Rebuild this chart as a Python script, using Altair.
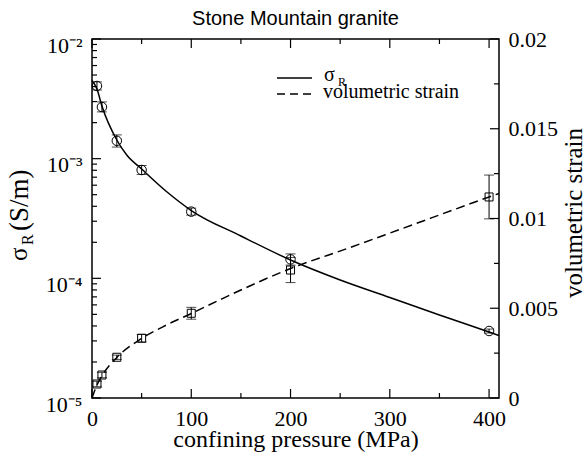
import json
import altair as alt
import pandas as pd

# ---- measured points (confining pressure in MPa) ----
pressure_pts = [5, 10, 25, 50, 100, 200, 400]
sigma_pts = [4.05e-3, 2.70e-3, 1.41e-3, 8.04e-4, 3.61e-4, 1.44e-4, 3.63e-5]
sigma_lo = [3.75e-3, 2.46e-3, 1.25e-3, 7.38e-4, 3.37e-4, 1.29e-4, 3.49e-5]
sigma_hi = [4.38e-3, 2.98e-3, 1.58e-3, 8.77e-4, 3.86e-4, 1.60e-4, 3.77e-5]
strain_pts = [0.00078, 0.00128, 0.00227, 0.00333, 0.00472, 0.00713, 0.0112]
strain_err = [0.00015, 0.00015, 0.00012, 0.00021, 0.00033, 0.0007, 0.00122]

# ---- model curves ----
sigma_fit_p = [0, 5, 10, 25, 35, 50, 75, 100, 150, 200, 250, 300, 350, 400, 410]
sigma_fit = [4.498e-3, 3.822e-3, 2.754e-3, 1.432e-3, 1.073e-3, 8.197e-4, 5.317e-4,
             3.688e-4, 2.259e-4, 1.423e-4, 9.685e-5, 6.917e-5, 4.940e-5, 3.561e-5, 3.331e-5]
strain_fit_p = [0, 5, 10, 25, 50, 75, 100, 132, 200, 260, 310, 400, 410]
strain_fit = [0, 0.000724, 0.001226, 0.002256, 0.003315, 0.004067, 0.004708, 0.005554,
              0.007214, 0.008384, 0.009387, 0.011198, 0.011393]

# ---- axis ticks and labels ----
x_major = [0, 100, 200, 300, 400]
x_minor = [50, 150, 250, 350]
log_major = [1e-5, 1e-4, 1e-3, 1e-2]
log_major_labels = ["10⁻⁵", "10⁻⁴", "10⁻³", "10⁻²"]
log_minor = [m * d for d in (1e-5, 1e-4, 1e-3) for m in range(2, 10)]
strain_major = [0, 0.005, 0.01, 0.015, 0.02]
strain_major_labels = ["0", "0.005", "0.01", "0.015", "0.02"]
strain_minor = [0.0025, 0.0075, 0.0125, 0.0175]

title_text = "Stone Mountain granite"
x_title = "confining pressure (MPa)"
right_title = "volumetric strain"
left_title_parts = ["σ", "R", "(S/m)"]
legend_labels = ["σ", "R", "volumetric strain"]

W, H = 407, 359
SERIF = "Liberation Serif"
SANS = "Liberation Sans"
MAJOR, MINOR = 9, 5

sig_df = pd.DataFrame({"p": pressure_pts, "v": sigma_pts, "lo": sigma_lo, "hi": sigma_hi})
sig_fit_df = pd.DataFrame({"p": sigma_fit_p, "v": sigma_fit})
str_df = pd.DataFrame({"p": pressure_pts, "v": strain_pts,
                       "lo": [s - e for s, e in zip(strain_pts, strain_err)],
                       "hi": [s + e for s, e in zip(strain_pts, strain_err)]})
str_fit_df = pd.DataFrame({"p": strain_fit_p, "v": strain_fit})

x_scale = alt.Scale(domain=[0, 410], nice=False, zero=False)
y_log = alt.Scale(type="log", domain=[1e-5, 1e-2], nice=False)
y_lin = alt.Scale(domain=[0, 0.02], nice=False, zero=False)

x_axis = alt.Axis(
    orient="bottom", values=x_major, ticks=False, domain=False, grid=False,
    labelFont=SERIF, labelFontSize=22, labelPadding=10, labelColor="black",
    labelFlush=False, labelOverlap=False,
    title=x_title, titleFont=SERIF, titleFontSize=24, titleFontWeight="normal",
    titleColor="black", titleX=W / 2, titleY=48, titleBaseline="alphabetic",
    titleAlign="center",
)
left_axis = alt.Axis(
    orient="left", values=log_major, ticks=False, domain=False, grid=False,
    labelExpr=f"{json.dumps(log_major_labels)}[round(log(datum.value) / LN10) + 5]",
    labelFont=SERIF, labelFontSize=22, labelPadding=10, labelColor="black",
    labelFlush=False, labelOverlap=False,
    labelBaseline="alphabetic", labelOffset=13, title=None,
)
right_axis = alt.Axis(
    orient="right", values=strain_major, ticks=False, domain=False, grid=False,
    labelExpr=f"{json.dumps(strain_major_labels)}[round(datum.value / 0.005)]",
    labelFont=SERIF, labelFontSize=22, labelPadding=9, labelColor="black",
    labelFlush=False, labelOverlap=False, labelBaseline="middle",
    title=right_title, titleFont=SERIF, titleFontSize=25, titleFontWeight="normal",
    titleColor="black", titleAngle=270, titleX=82, titleY=H / 2 - 6,
    titleAlign="center", titleBaseline="alphabetic",
)

X = alt.X("p:Q", scale=x_scale, axis=x_axis)


def YL(field):
    return alt.Y(f"{field}:Q", scale=y_log, axis=left_axis)


def YR(field):
    return alt.Y(f"{field}:Q", scale=y_lin, axis=right_axis)


def tick_rules(df, length, **enc):
    return alt.Chart(df).mark_rule(color="black", strokeWidth=1.2).encode(**enc).transform_filter(
        f"datum.len == {length}")


# ---- conductivity (left, log axis) ----
sig_line = alt.Chart(sig_fit_df).mark_line(color="black", strokeWidth=1.5, interpolate="monotone").encode(
    x=X, y=YL("v"))
sig_bar = alt.Chart(sig_df).mark_rule(color="black", strokeWidth=1).encode(
    x=X, y=YL("lo"), y2="hi:Q")
sig_cap_lo = alt.Chart(sig_df).mark_tick(color="black", orient="horizontal", size=10, thickness=1).encode(
    x=X, y=YL("lo"))
sig_cap_hi = alt.Chart(sig_df).mark_tick(color="black", orient="horizontal", size=10, thickness=1).encode(
    x=X, y=YL("hi"))
sig_pts = alt.Chart(sig_df).mark_point(shape="circle", filled=False, color="black", size=90,
                                       strokeWidth=1, opacity=1).encode(x=X, y=YL("v"))

log_ticks_df = pd.DataFrame({"v": log_major + log_minor,
                             "len": [MAJOR] * len(log_major) + [MINOR] * len(log_minor)})
x_ticks_df = pd.DataFrame({"p": x_major + x_minor,
                           "len": [MAJOR] * len(x_major) + [MINOR] * len(x_minor)})

left_group = alt.layer(
    sig_line, sig_bar, sig_cap_lo, sig_cap_hi, sig_pts,
    tick_rules(log_ticks_df, MAJOR, y=YL("v"), x=alt.value(0), x2=alt.value(MAJOR)),
    tick_rules(log_ticks_df, MINOR, y=YL("v"), x=alt.value(0), x2=alt.value(MINOR)),
    tick_rules(x_ticks_df, MAJOR, x=X, y=alt.value(H), y2=alt.value(H - MAJOR)),
    tick_rules(x_ticks_df, MINOR, x=X, y=alt.value(H), y2=alt.value(H - MINOR)),
    tick_rules(x_ticks_df, MAJOR, x=X, y=alt.value(0), y2=alt.value(MAJOR)),
    tick_rules(x_ticks_df, MINOR, x=X, y=alt.value(0), y2=alt.value(MINOR)),
)

# ---- volumetric strain (right, linear axis) ----
str_line = alt.Chart(str_fit_df).mark_line(color="black", strokeWidth=1.5, strokeDash=[9, 5],
                                           interpolate="monotone").encode(x=X, y=YR("v"))
str_bar = alt.Chart(str_df).mark_rule(color="black", strokeWidth=1).encode(
    x=X, y=YR("lo"), y2="hi:Q")
str_cap_lo = alt.Chart(str_df).mark_tick(color="black", orient="horizontal", size=10, thickness=1).encode(
    x=X, y=YR("lo"))
str_cap_hi = alt.Chart(str_df).mark_tick(color="black", orient="horizontal", size=10, thickness=1).encode(
    x=X, y=YR("hi"))
str_pts = alt.Chart(str_df).mark_point(shape="square", filled=False, color="black", size=64,
                                       strokeWidth=1, opacity=1).encode(x=X, y=YR("v"))

strain_ticks_df = pd.DataFrame({"v": strain_major + strain_minor,
                                "len": [MAJOR] * len(strain_major) + [MINOR] * len(strain_minor)})

right_group = alt.layer(
    str_line, str_bar, str_cap_lo, str_cap_hi, str_pts,
    tick_rules(strain_ticks_df, MAJOR, y=YR("v"), x=alt.value(W), x2=alt.value(W - MAJOR)),
    tick_rules(strain_ticks_df, MINOR, y=YR("v"), x=alt.value(W), x2=alt.value(W - MINOR)),
)

# ---- title, legend and left axis title (drawn as text so the subscript can be set) ----
one = pd.DataFrame({"k": [0]})
leg_solid = alt.Chart(one).mark_rule(color="black", strokeWidth=1.5).encode(
    x=alt.value(185), x2=alt.value(220), y=alt.value(39))
leg_dash = alt.Chart(one).mark_rule(color="black", strokeWidth=1.5, strokeDash=[8, 5]).encode(
    x=alt.value(185), x2=alt.value(220), y=alt.value(55))


def label(text, x, y, size, angle=0, align="left", font=SERIF):
    return alt.Chart(one).mark_text(
        text=text, font=font, fontSize=size, color="black", align=align,
        baseline="alphabetic", angle=angle,
    ).encode(x=alt.value(x), y=alt.value(y))


title_mark = label(title_text, W / 2, -14, 20, align="center", font=SANS)

leg_sigma = label(legend_labels[0], 232, 42, 20)
leg_sub = label(legend_labels[1], 246, 47, 12)
leg_strain = label(legend_labels[2], 231, 59, 20)

ylab_sigma = label(left_title_parts[0], -65, 222, 25, 270)
ylab_sub = label(left_title_parts[1], -59, 206, 16, 270)
ylab_units = label(left_title_parts[2], -64, 192, 27, 270)

chart = alt.layer(
    left_group, right_group,
    leg_solid, leg_dash, leg_sigma, leg_sub, leg_strain,
    ylab_sigma, ylab_sub, ylab_units, title_mark,
).resolve_scale(y="independent").properties(
    width=W, height=H,
    autosize=alt.AutoSizeParams(type="none"),
    padding={"left": 92, "top": 39, "right": 86, "bottom": 58},
).configure(background="white").configure_view(stroke="black", strokeWidth=1.5)

chart.save("out.html", embed_options={"renderer": "svg", "actions": False})
